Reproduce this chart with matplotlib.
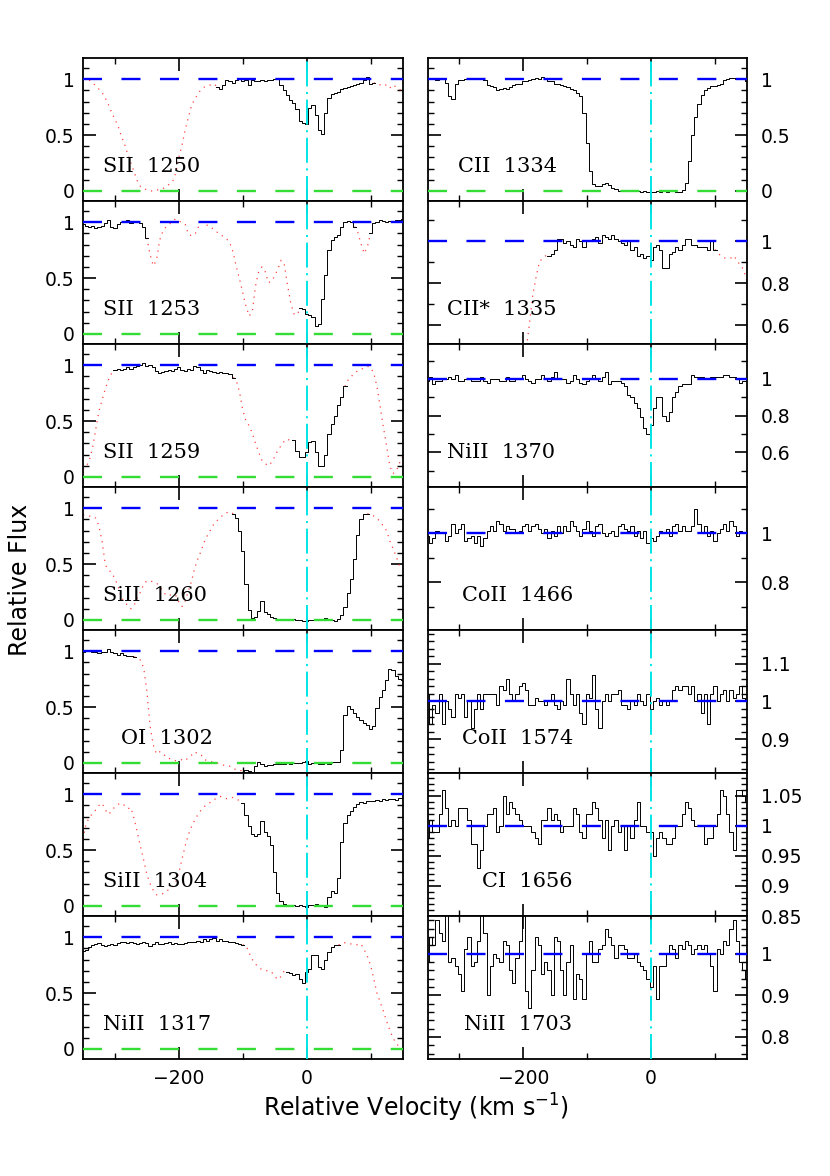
import numpy as np
import matplotlib
matplotlib.use('Agg')
import matplotlib.pyplot as plt
from matplotlib.ticker import MultipleLocator, FormatStrFormatter

nan = np.nan

# velocity grid (km/s), one flux value per 5 km/s bin
vel = np.arange(-350, 151, 5)

sii_1250 = [1.00, 1.00, 0.99, 0.97, 0.94, 0.91, 0.88, 0.83, 0.77, 0.70,
            0.64, 0.58, 0.49, 0.42, 0.33, 0.25, 0.17, 0.09, 0.04, 0.02,
            0.01, 0.00, 0.00, 0.01, 0.01, 0.02, 0.04, 0.06, 0.08, 0.16,
            0.30, 0.41, 0.55, 0.66, 0.77, 0.82, 0.87, 0.91, 0.93, 0.94,
            0.95, 0.96, 0.93, 0.91, 0.95, 0.99, 0.98, 0.97, 0.99, 1.00,
            0.98, 0.99, 0.95, 0.99, 0.98, 0.98, 0.99, 0.98, 0.99, 0.99,
            1.00, 1.00, 0.95, 0.90, 0.86, 0.81, 0.79, 0.73, 0.63, 0.61,
            0.60, 0.74, 0.77, 0.68, 0.55, 0.51, 0.70, 0.83, 0.87, 0.88,
            0.89, 0.91, 0.92, 0.93, 0.94, 0.95, 0.96, 0.97, 0.99, 1.02,
            0.96, 0.97, 0.95, 0.95, 0.94, 0.95, 0.92, 0.95, 0.93, 0.91,
            0.89]

sii_1253 = [0.98, 0.97, 0.96, 0.97, 0.95, 0.96, 0.97, 0.99, 1.02, 0.96,
            0.95, 0.98, 1.00, 1.00, 1.02, 0.99, 1.00, 1.01, 0.99, 0.96,
            0.86, 0.71, 0.61, 0.66, 0.84, 0.92, 0.96, 0.98, 1.01, 1.03,
            1.01, 1.00, 0.98, 0.89, 0.88, 0.89, 0.95, 1.00, 0.99, 0.97,
            0.95, 0.94, 0.91, 0.89, 0.87, 0.85, 0.81, 0.73, 0.60, 0.49,
            0.37, 0.25, 0.16, 0.20, 0.43, 0.56, 0.60, 0.56, 0.46, 0.47,
            0.52, 0.58, 0.66, 0.62, 0.44, 0.28, 0.18, 0.17, 0.23, 0.22,
            0.18, 0.17, 0.15, 0.07, 0.09, 0.31, 0.53, 0.75, 0.84, 0.87,
            0.89, 0.96, 1.00, 1.01, 1.00, 0.96, 0.91, 0.81, 0.72, 0.78,
            0.90, 0.99, 1.00, 1.02, 1.01, 1.00, 1.01, 1.00, 1.02, 1.02,
            1.03]

sii_1259 = [0.07, 0.09, 0.15, 0.26, 0.43, 0.59, 0.69, 0.79, 0.87, 0.93,
            0.96, 0.97, 0.96, 0.97, 0.98, 0.97, 0.98, 0.99, 1.00, 1.02,
            0.99, 1.00, 0.98, 0.95, 0.93, 0.94, 0.95, 0.96, 0.95, 0.97,
            0.98, 0.96, 0.95, 0.97, 0.96, 0.99, 0.98, 0.96, 0.93, 0.96,
            0.95, 0.94, 0.93, 0.94, 0.93, 0.93, 0.92, 0.89, 0.86, 0.76,
            0.60, 0.50, 0.46, 0.39, 0.30, 0.22, 0.15, 0.12, 0.10, 0.13,
            0.18, 0.24, 0.28, 0.32, 0.34, 0.32, 0.33, 0.23, 0.18, 0.18,
            0.22, 0.31, 0.32, 0.22, 0.10, 0.10, 0.20, 0.38, 0.47, 0.55,
            0.64, 0.72, 0.81, 0.87, 0.90, 0.93, 0.95, 0.96, 0.98, 0.99,
            0.98, 0.93, 0.81, 0.63, 0.45, 0.28, 0.10, 0.03, 0.05, 0.12,
            0.18]

siii_1260 = [0.94, 0.94, 0.93, 0.93, 0.91, 0.84, 0.70, 0.49, 0.45, 0.42,
             0.37, 0.30, 0.20, 0.16, 0.13, 0.10, 0.13, 0.20, 0.25, 0.32,
             0.35, 0.35, 0.34, 0.33, 0.30, 0.26, 0.22, 0.22, 0.23, 0.22,
             0.16, 0.12, 0.17, 0.26, 0.35, 0.47, 0.55, 0.62, 0.70, 0.76,
             0.81, 0.86, 0.89, 0.92, 0.94, 0.96, 0.97, 0.95, 0.91, 0.80,
             0.62, 0.32, 0.09, 0.02, 0.03, 0.08, 0.17, 0.07, 0.05, 0.03,
             0.02, 0.01, 0.01, 0.01, 0.01, 0.00, 0.01, 0.00, 0.00, -0.01,
             -0.01, 0.00, 0.00, 0.01, 0.00, 0.01, 0.02, 0.01, 0.00, -0.01,
             0.01, 0.04, 0.12, 0.24, 0.37, 0.55, 0.76, 0.90, 0.95, 0.95,
             0.95, 0.93, 0.91, 0.88, 0.84, 0.80, 0.71, 0.64, 0.57, 0.49,
             0.45]

oi_1302 = [0.99, 1.00, 1.00, 0.99, 0.99, 0.98, 0.99, 0.99, 1.02, 0.99,
           0.98, 0.97, 0.98, 0.97, 0.96, 0.96, 0.95, 0.94, 0.92, 0.85,
           0.64, 0.33, 0.16, 0.08, 0.10, 0.09, 0.05, 0.04, 0.03, 0.02,
           0.02, 0.03, 0.02, 0.05, 0.07, 0.10, 0.08, 0.07, 0.03, 0.02,
           0.01, 0.01, 0.00, -0.01, -0.02, -0.02, -0.03, -0.05, -0.06, -0.06,
           -0.08, -0.06, -0.07, -0.08, -0.03, 0.01, -0.01, -0.03, -0.02, -0.02,
           -0.01, -0.01, -0.01, -0.01, 0.00, -0.01, 0.00, 0.00, 0.00, 0.01,
           0.02, -0.01, 0.00, 0.00, -0.01, -0.01, 0.00, -0.01, 0.01, 0.01,
           0.01, 0.12, 0.43, 0.51, 0.48, 0.45, 0.41, 0.38, 0.36, 0.34,
           0.30, 0.33, 0.49, 0.59, 0.65, 0.74, 0.84, 0.83, 0.78, 0.75,
           0.74]

siii_1304 = [0.60, 0.74, 0.79, 0.83, 0.86, 0.90, 0.92, 0.86, 0.82, 0.85,
             0.89, 0.91, 0.92, 0.90, 0.87, 0.88, 0.78, 0.66, 0.53, 0.41,
             0.28, 0.20, 0.14, 0.10, 0.10, 0.11, 0.13, 0.15, 0.17, 0.21,
             0.30, 0.42, 0.54, 0.64, 0.71, 0.77, 0.82, 0.86, 0.89, 0.91,
             0.93, 0.95, 0.97, 0.98, 0.97, 0.96, 0.97, 0.97, 0.96, 0.94,
             0.92, 0.81, 0.72, 0.64, 0.63, 0.64, 0.76, 0.66, 0.63, 0.55,
             0.30, 0.12, 0.04, 0.02, 0.01, 0.01, 0.01, 0.00, 0.01, 0.00,
             -0.01, 0.01, 0.01, 0.02, 0.01, 0.01, -0.01, 0.08, 0.13, 0.12,
             0.25, 0.57, 0.74, 0.81, 0.85, 0.89, 0.91, 0.93, 0.92, 0.94,
             0.94, 0.94, 0.95, 0.94, 0.96, 0.95, 0.96, 0.96, 0.95, 0.97,
             0.97]

niii_1317 = [0.88, 0.89, 0.91, 0.93, 0.94, 0.95, 0.93, 0.92, 0.93, 0.94,
             0.93, 0.95, 0.96, 0.96, 0.95, 0.96, 0.95, 0.94, 0.95, 0.96,
             0.95, 0.92, 0.94, 0.96, 0.94, 0.94, 0.95, 0.96, 0.94, 0.95,
             0.94, 0.94, 0.95, 0.96, 0.96, 0.96, 0.97, 0.96, 0.98, 0.97,
             0.98, 0.99, 0.97, 0.98, 0.97, 0.97, 0.96, 0.96, 0.95, 0.94,
             0.93, 0.93, 0.86, 0.80, 0.76, 0.73, 0.71, 0.70, 0.70, 0.69,
             0.65, 0.62, 0.65, 0.70, 0.69, 0.68, 0.66, 0.67, 0.63, 0.59,
             0.69, 0.72, 0.84, 0.84, 0.73, 0.72, 0.80, 0.87, 0.91, 0.93,
             0.93, 0.95, 0.95, 0.94, 0.94, 0.94, 0.93, 0.94, 0.89, 0.83,
             0.75, 0.63, 0.50, 0.42, 0.34, 0.25, 0.17, 0.10, 0.05, 0.02,
             0.01]

cii_1334 = [1.00, 1.00, 1.00, 0.99, 1.00, 1.00, 0.97, 0.85, 0.82, 0.96,
            0.99, 0.99, 1.00, 1.00, 1.00, 1.01, 1.01, 1.00, 0.99, 0.95,
            0.94, 0.93, 0.90, 0.91, 0.92, 0.91, 0.93, 0.95, 0.96, 0.96,
            0.98, 0.98, 0.99, 1.00, 1.01, 1.00, 1.02, 1.00, 0.98, 0.98,
            0.96, 0.96, 0.95, 0.94, 0.93, 0.91, 0.90, 0.88, 0.85, 0.70,
            0.43, 0.18, 0.06, 0.04, 0.04, 0.06, 0.07, 0.05, 0.03, 0.02,
            0.00, 0.00, 0.01, 0.01, 0.00, 0.01, 0.00, -0.01, 0.00, -0.01,
            -0.01, -0.01, 0.00, -0.01, 0.00, -0.01, 0.00, 0.00, -0.01, -0.01,
            0.01, 0.07, 0.27, 0.50, 0.66, 0.78, 0.86, 0.90, 0.92, 0.94,
            0.94, 0.95, 0.96, 0.99, 1.00, 1.01, 1.01, 1.01, 1.00, 1.00,
            0.98]

ciis_1335 = [nan, nan, nan, nan, nan, nan, nan, nan, nan, nan,
             nan, nan, nan, nan, nan, nan, nan, nan, nan, nan,
             nan, nan, nan, nan, nan, nan, nan, nan, nan, nan,
             nan, 0.50, 0.62, 0.75, 0.83, 0.90, 0.92, 0.93, 0.93, 0.94,
             0.96, 1.01, 1.01, 0.99, 1.00, 0.98, 0.97, 1.01, 1.00, 0.97,
             1.00, 1.00, 1.01, 1.02, 0.99, 1.03, 1.02, 1.01, 1.03, 1.01,
             1.00, 0.99, 0.98, 1.00, 0.96, 0.97, 0.93, 0.94, 0.92, 0.93,
             0.91, 0.97, 0.98, 0.96, 0.87, 0.87, 0.94, 0.95, 0.97, 0.96,
             0.98, 1.01, 1.01, 0.98, 0.98, 0.97, 0.97, 0.97, 0.96, 1.00,
             0.96, 0.94, 0.93, 0.92, 0.92, 0.92, 0.93, 0.90, 0.89, 0.86,
             0.81]

niii_1370 = [0.99, 1.01, 0.97, 0.99, 0.99, 1.00, 1.00, 1.01, 1.00, 1.02,
             0.99, 0.99, 1.00, 1.00, 0.99, 0.99, 0.99, 1.01, 0.99, 0.98,
             1.00, 1.00, 1.00, 0.99, 0.99, 1.01, 0.99, 0.99, 1.00, 1.00,
             1.02, 1.00, 0.99, 0.98, 1.00, 1.00, 1.02, 1.00, 0.99, 1.01,
             1.04, 1.00, 1.00, 1.00, 0.98, 0.99, 1.02, 1.00, 0.98, 0.97,
             0.99, 1.00, 1.02, 1.00, 0.99, 1.01, 1.04, 0.97, 0.99, 0.99,
             0.99, 0.98, 0.96, 0.91, 0.90, 0.87, 0.84, 0.79, 0.73, 0.70,
             0.75, 0.84, 0.90, 0.90, 0.80, 0.77, 0.82, 0.90, 0.93, 0.96,
             0.97, 0.97, 0.97, 1.02, 1.01, 1.01, 1.01, 1.00, 1.00, 1.01,
             1.01, 1.01, 1.01, 1.02, 1.02, 1.01, 1.01, 1.00, 0.98, 0.99,
             0.99]

coii_1466 = [0.99, 0.96, 0.98, 1.01, 1.00, 1.00, 0.97, 0.99, 1.04, 1.00,
             1.02, 1.04, 0.97, 0.98, 0.99, 0.96, 0.99, 0.95, 0.98, 1.01,
             1.03, 1.01, 1.05, 1.04, 1.01, 1.03, 1.02, 1.02, 1.00, 1.01,
             1.03, 1.04, 1.01, 1.03, 1.04, 1.02, 1.00, 1.02, 0.98, 1.01,
             0.99, 1.03, 1.00, 1.03, 1.01, 1.05, 1.03, 1.01, 0.99, 1.02,
             1.05, 1.01, 0.99, 1.03, 1.04, 1.00, 0.99, 1.00, 1.01, 0.99,
             1.03, 1.04, 1.02, 1.01, 1.03, 0.99, 1.01, 0.98, 1.01, 0.96,
             0.98, 0.97, 0.99, 1.01, 1.00, 1.02, 0.99, 1.03, 1.04, 1.01,
             1.03, 1.01, 1.01, 1.03, 1.10, 1.04, 1.00, 1.03, 0.99, 1.01,
             0.97, 1.00, 1.02, 1.04, 1.01, 1.05, 1.03, 0.99, 1.01, 1.00,
             1.00]

coii_1574 = [1.02, 0.94, 0.99, 0.97, 1.02, 0.94, 1.00, 0.98, 0.96, 1.02,
             1.01, 1.02, 0.96, 1.00, 0.93, 0.98, 1.02, 0.98, 1.02, 1.02,
             1.02, 1.02, 0.99, 1.04, 1.03, 1.06, 1.02, 1.00, 1.02, 1.04,
             1.05, 1.03, 0.99, 0.99, 1.01, 1.00, 1.00, 0.99, 1.00, 1.02,
             0.99, 0.98, 1.00, 0.99, 1.06, 1.02, 0.99, 1.02, 0.97, 0.94,
             1.02, 1.01, 1.07, 0.98, 0.93, 1.00, 1.02, 1.00, 1.02, 1.02,
             1.03, 0.99, 0.99, 0.98, 1.00, 0.99, 1.02, 1.00, 0.99, 1.02,
             0.98, 1.00, 1.01, 0.99, 1.00, 0.99, 1.00, 1.03, 1.04, 1.03,
             1.04, 1.04, 1.02, 1.04, 1.00, 1.02, 0.97, 1.02, 0.94, 1.02,
             1.04, 1.00, 1.02, 1.03, 1.00, 1.03, 1.01, 1.02, 1.04, 1.01,
             1.00]

ci_1656 = [0.98, 1.01, 0.99, 0.99, 1.02, 1.06, 1.03, 1.00, 1.01, 1.00,
           1.03, 1.03, 1.03, 1.01, 0.97, 0.97, 0.93, 0.96, 1.00, 1.02,
           1.02, 1.03, 0.99, 1.00, 1.05, 1.02, 1.04, 1.03, 1.02, 1.01,
           1.00, 1.00, 1.00, 0.99, 0.98, 0.97, 1.01, 1.01, 1.03, 1.01,
           1.02, 1.01, 0.99, 1.00, 1.00, 1.00, 1.03, 1.02, 0.99, 0.98,
           1.02, 1.02, 1.04, 1.03, 1.01, 0.98, 1.01, 0.96, 1.00, 1.01,
           0.99, 1.00, 0.96, 1.00, 0.98, 1.01, 1.04, 1.00, 1.00, 0.99,
           0.99, 0.95, 0.98, 0.99, 0.98, 0.97, 0.97, 0.98, 1.00, 1.00,
           1.02, 1.04, 1.03, 1.01, 1.00, 1.00, 1.00, 0.97, 0.98, 0.98,
           1.00, 1.02, 1.06, 1.05, 1.02, 0.99, 0.96, 1.06, 1.06, 1.05,
           1.04]

niii_1703 = [0.98, 1.04, 1.02, 1.08, 1.05, 1.03, 1.12, 0.98, 0.99, 0.97,
             0.95, 0.91, 1.01, 1.04, 0.97, 0.98, 1.03, 1.10, 1.05, 0.90,
             0.97, 1.00, 0.99, 0.98, 1.03, 1.02, 0.96, 0.93, 0.99, 1.03,
             1.12, 0.91, 0.87, 0.96, 1.04, 1.02, 0.95, 0.98, 0.96, 0.90,
             1.04, 1.03, 0.96, 0.90, 0.98, 1.02, 0.89, 0.95, 0.94, 0.89,
             1.00, 1.03, 0.98, 0.98, 1.01, 1.02, 1.06, 1.04, 1.02, 0.99,
             1.02, 1.02, 1.01, 0.99, 0.99, 1.00, 0.98, 0.97, 0.96, 0.94,
             0.92, 0.97, 0.89, 0.97, 0.97, 1.00, 1.02, 1.01, 0.99, 1.02,
             1.01, 1.03, 1.02, 1.00, 1.01, 1.02, 1.01, 1.02, 1.00, 0.97,
             0.91, 1.01, 1.00, 1.03, 1.02, 1.06, 1.08, 1.03, 0.98, 0.96,
             0.94]

# velocity ranges shown as the clean (black) spectrum; elsewhere blended (red dotted)
ALL = [(-350, 150)]
left_panels = [
    ('SII  1250', sii_1250, [(-140, 105)]),
    ('SII  1253', sii_1253, [(-350, -250), (-10, 75), (100, 150)]),
    ('SII  1259', sii_1259, [(-300, -115), (-20, 60)]),
    ('SiII  1260', siii_1260, [(-115, 95)]),
    ('OI  1302', oi_1302, [(-350, -270), (-100, 150)]),
    ('SiII  1304', siii_1304, [(-100, 150)]),
    ('NiII  1317', niii_1317, [(-350, -100), (-30, 50)]),
]
right_panels = [
    ('CII  1334', cii_1334, ALL),
    ('CII*  1335', ciis_1335, [(-160, 100)]),
    ('NiII  1370', niii_1370, ALL),
    ('CoII  1466', coii_1466, ALL),
    ('CoII  1574', coii_1574, ALL),
    ('CI  1656', ci_1656, ALL),
    ('NiII  1703', niii_1703, ALL),
]

# layout / style
left_ylims = [(-0.09, 1.19)] * 7
right_ylims = [(-0.09, 1.19), (0.512, 1.19), (0.41, 1.19), (0.605, 1.19),
               (0.81, 1.19), (0.85, 1.088), (0.747, 1.09)]
right_ticks = [(0.5, 0.1), (0.2, 0.1), (0.2, 0.1), (0.2, 0.1),
               (0.1, 0.02), (0.05, 0.01), (0.1, 0.02)]
left_label_x = [0.063, 0.063, 0.063, 0.063, 0.118, 0.063, 0.063]
right_label_x = [0.094, 0.06, 0.06, 0.107, 0.107, 0.17, 0.113]

plt.rcParams['lines.scale_dashes'] = False
plt.rcParams['font.family'] = ['DejaVu Sans']

W_PX, H_PX = 830, 1176
fig = plt.figure(figsize=(8.3, 11.76), dpi=100)

DASH = (0, (13.7, 14.0))
DASHDOT = (0, (18, 4, 1.5, 4))


def draw_spec(ax, flux, good):
    flux = np.asarray(flux, float)
    mask = np.zeros(len(vel), bool)
    for lo, hi in good:
        mask |= (vel >= lo) & (vel <= hi)
    bad = ~mask
    bad_ext = bad.copy()
    bad_ext[1:] |= bad[:-1]
    bad_ext[:-1] |= bad[1:]
    ax.plot(vel, np.where(bad_ext, flux, nan), color='#ff2020',
            ls=(0, (0.9, 3.6)), lw=0.9, alpha=0.85, zorder=2)
    ax.plot(vel, np.where(mask, flux, nan), color='black', lw=0.7,
            drawstyle='steps-mid', zorder=2)


def setup(ax, ylim, major, minor, side, bottom):
    ax.set_xlim(-350, 150)
    ax.set_ylim(*ylim)
    ax.xaxis.set_major_locator(MultipleLocator(200))
    ax.xaxis.set_minor_locator(MultipleLocator(100))
    ax.yaxis.set_major_locator(MultipleLocator(major))
    ax.yaxis.set_minor_locator(MultipleLocator(minor))
    ax.yaxis.set_major_formatter(FormatStrFormatter('%g'))
    ax.tick_params(which='both', direction='in', top=True, right=True,
                   bottom=True, left=True, labelsize=13.5)
    ax.tick_params(which='major', length=9, width=1.2)
    ax.tick_params(which='minor', length=4.5, width=1.0)
    if side == 'left':
        ax.tick_params(labelleft=True, labelright=False, pad=6)
    else:
        ax.tick_params(labelleft=False, labelright=True, pad=10)
    ax.tick_params(axis='x', labelbottom=bottom, pad=7)
    if bottom:
        ax.set_xticks([-200, 0])
        ax.set_xticklabels(['\u2212200', '0'])
    for s in ax.spines.values():
        s.set_linewidth(1.3)
    ax.axhline(1, color='blue', lw=1.7, ls=DASH, zorder=3)
    if ylim[0] < 0:
        ax.axhline(0, color='#33dd33', lw=1.7, ls=DASH, zorder=3)
    ax.axvline(0, color='#00e6e6', lw=1.4, ls=DASHDOT, zorder=4)


row_h = 143
top0 = 58
for col, (panels, ylims, x0, labx) in enumerate([
        (left_panels, left_ylims, 83, left_label_x),
        (right_panels, right_ylims, 427.5, right_label_x)]):
    for i, (name, flux, good) in enumerate(panels):
        bot = 1 - (top0 + row_h * (i + 1)) / H_PX
        ax = fig.add_axes([x0 / W_PX, bot, 319.5 / W_PX, row_h / H_PX])
        if col == 0:
            major, minor = 0.5, 0.1
        else:
            major, minor = right_ticks[i]
        draw_spec(ax, flux, good)
        setup(ax, ylims[i], major, minor, 'left' if col == 0 else 'right',
              i == len(panels) - 1)
        ax.text(labx[i], 0.24, name, transform=ax.transAxes, fontsize=15,
                family='DejaVu Serif', va='center', ha='left')

fig.text(20 / W_PX, 1 - 580 / H_PX, 'Relative Flux', rotation=90,
         ha='center', va='center', fontsize=17)
fig.text(416 / W_PX, 1 - 1108 / H_PX, r'Relative Velocity (km s$^{-1}$)',
         ha='center', va='center', fontsize=17)

fig.savefig('out.png', dpi=100)
